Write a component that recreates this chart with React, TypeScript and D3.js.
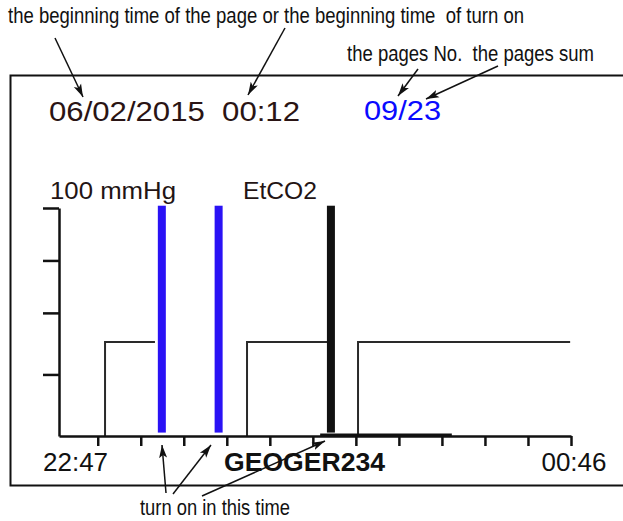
import React, { useEffect, useRef } from "react";
import * as d3 from "d3";

// minutes since 22:47 (axis start) ; axis end 00:46 = 119 min
const timeDomain = [0, 119];
const tickMinutes = [9, 19, 29, 39, 49, 59, 69, 79, 89, 99, 109, 119];
const yTicks = [27, 54, 77, 100];
const timeLabels = ["22:47", "00:46"];
const deviceId = "GEOGER234";
const dateText = "06/02/2015  00:12";
const pageText = "09/23";
const scaleLabel = "100 mmHg";
const channelLabel = "EtCO2";

// EtCO2 step trace segments: [start minute, end minute, level]
const stepSegments = [
  [10.7, 22.3, 41.2],
  [43.7, 62.5, 41.2],
  [69.5, 118.8, 41.2],
];
const baselineTrace = [60.7, 91.3];
// turn-on markers (minutes)
const blueMarks = [23.9, 37.1];
const blackMarks = [63.2];
const markTop = 101;
const markBottom = 1.5;

const SANS = "'Liberation Sans', Arial, sans-serif";

// condensed annotation text: horizontally scaled group
function NarrowText(props: { x: number; y: number; w: number; size: number; sx: number; children: string }) {
  const { x, y, w, size, sx, children } = props;
  return (
    <g transform={`translate(${x},${y}) scale(${sx},1)`}>
      <text
        x={0}
        y={0}
        fontFamily={SANS}
        fontSize={size}
        fill="#111"
        textLength={w / sx}
        lengthAdjust="spacingAndGlyphs"
        style={{ whiteSpace: "pre" }}
      >
        {children}
      </text>
    </g>
  );
}

export default function App() {
  const xAxisRef = useRef<SVGGElement>(null);
  const yAxisRef = useRef<SVGGElement>(null);

  const x = d3.scaleLinear().domain(timeDomain).range([59, 571]);
  const y = d3.scaleLinear().domain([0, 100]).range([436, 208]);

  useEffect(() => {
    const gx = d3.select(xAxisRef.current!);
    gx.selectAll("*").remove();
    gx.call(
      d3.axisBottom(x).tickValues(tickMinutes).tickSizeInner(10).tickSizeOuter(0).tickFormat(() => "")
    );
    gx.selectAll("path,line").attr("stroke", "#111").attr("stroke-width", 2.5);
    const gy = d3.select(yAxisRef.current!);
    gy.selectAll("*").remove();
    gy.call(d3.axisLeft(y).tickValues(yTicks).tickSizeInner(16).tickSizeOuter(0).tickFormat(() => ""));
    gy.selectAll("path,line").attr("stroke", "#111").attr("stroke-width", 2.5);
  }, []);

  const line = d3.line<[number, number]>().x((d) => x(d[0])).y((d) => y(d[1]));

  const arrows: [number, number, number, number][] = [
    [55, 38, 83, 97],
    [285, 28, 248, 95],
    [418, 69, 398, 96],
    [498, 66, 426, 99],
    [166, 493, 162, 445],
    [173, 494, 211, 445],
    [202, 496, 325, 441],
  ];

  return (
    <svg
      width={623}
      height={521}
      style={{ position: "absolute", left: 0, top: 0, background: "#fff" }}
    >
      <defs>
        <marker
          id="ah"
          markerUnits="userSpaceOnUse"
          markerWidth={14}
          markerHeight={10}
          refX={13}
          refY={5}
          orient="auto"
        >
          <path d="M0,1 L13,5 L0,9 L3,5 Z" fill="#111" />
        </marker>
      </defs>
      {/* frame */}
      <rect x={10.5} y={75.5} width={640} height={410} fill="none" stroke="#111" strokeWidth={2} />

      {/* annotations */}
      <NarrowText x={8} y={23} w={516} size={22.5} sx={0.76}>
        {"the beginning time of the page or the beginning time  of turn on"}
      </NarrowText>
      <NarrowText x={347} y={61} w={247} size={21.5} sx={0.86}>
        {"the pages No.  the pages sum"}
      </NarrowText>
      <NarrowText x={140} y={515} w={150} size={22} sx={0.76}>
        {"turn on in this time"}
      </NarrowText>
      {arrows.map((a, i) => (
        <line
          key={i}
          x1={a[0]}
          y1={a[1]}
          x2={a[2]}
          y2={a[3]}
          stroke="#111"
          strokeWidth={1.5}
          markerEnd="url(#ah)"
        />
      ))}

      {/* header */}
      <text
        x={49}
        y={121}
        fontFamily={SANS}
        fontSize={27}
        fill="#2a1414"
        textLength={251}
        lengthAdjust="spacingAndGlyphs"
        style={{ whiteSpace: "pre" }}
      >
        {dateText}
      </text>
      <text x={364} y={120} fontFamily={SANS} fontSize={27} fill="#0a0aff" textLength={77} lengthAdjust="spacingAndGlyphs">
        {pageText}
      </text>
      <text x={50} y={199} fontFamily={SANS} fontSize={24} fill="#231414" textLength={126} lengthAdjust="spacingAndGlyphs">
        {scaleLabel}
      </text>
      <text x={243} y={199} fontFamily={SANS} fontSize={24} fill="#231414" textLength={74} lengthAdjust="spacingAndGlyphs">
        {channelLabel}
      </text>

      {/* trace */}
      {stepSegments.map((s, i) => (
        <path
          key={i}
          d={line([
            [s[0], 0],
            [s[0], s[2]],
            [s[1], s[2]],
          ])!}
          fill="none"
          stroke="#2a2a2a"
          strokeWidth={2}
        />
      ))}
      <path
        d={line([
          [baselineTrace[0], 0.6],
          [baselineTrace[1], 0.6],
        ])!}
        stroke="#111"
        strokeWidth={2.5}
      />

      {/* axes */}
      <g ref={xAxisRef} transform={`translate(0,${y(0)})`} />
      <g ref={yAxisRef} transform={`translate(${x(0)},0)`} />

      {/* turn-on markers */}
      {blueMarks.map((m, i) => (
        <rect key={"b" + i} x={x(m) - 4} y={y(markTop)} width={8} height={y(markBottom) - y(markTop)} fill="#2a12f5" />
      ))}
      {blackMarks.map((m, i) => (
        <rect key={"k" + i} x={x(m) - 4} y={y(markTop)} width={8} height={y(markBottom) - y(markTop)} fill="#111" />
      ))}

      {/* time labels */}
      <text x={x(timeDomain[0]) - 16} y={471} fontFamily={SANS} fontSize={26} fill="#111">
        {timeLabels[0]}
      </text>
      <text x={x(timeDomain[1]) + 3} y={471} fontFamily={SANS} fontSize={26} fill="#111" textAnchor="middle">
        {timeLabels[1]}
      </text>
      <text x={224} y={471} fontFamily={SANS} fontSize={26} fontWeight="bold" fill="#111" textLength={161} lengthAdjust="spacingAndGlyphs">
        {deviceId}
      </text>
    </svg>
  );
}
